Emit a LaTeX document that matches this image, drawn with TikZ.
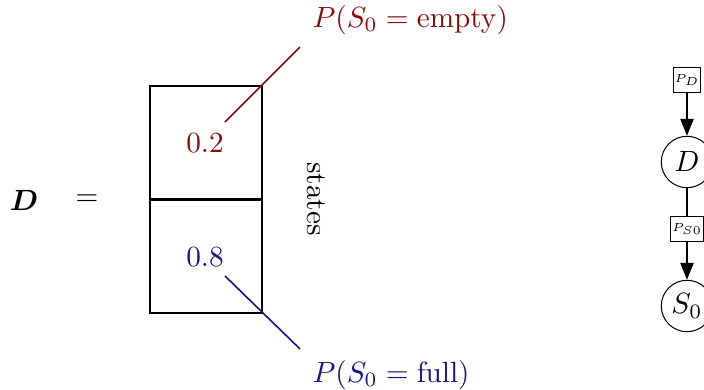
\documentclass[tikz,border=0pt]{standalone}
\usepackage{amsmath,amssymb,bm,graphicx}
\usetikzlibrary{arrows.meta}
\definecolor{myred}{RGB}{139,10,10}
\definecolor{myblue}{RGB}{20,20,140}
\newcommand{\fsmall}[1]{\scalebox{0.8}{\tiny$#1$}}
\begin{document}
\begin{tikzpicture}[x=0.342pt,y=-0.342pt,
  cellbox/.style={draw,line width=0.65pt,minimum width=112*0.342pt,minimum height=113*0.342pt,inner sep=0pt,anchor=north west},
  factorbox/.style={draw,line width=0.35pt,inner sep=0.4pt,minimum width=8.2pt,minimum height=8.4pt},
  varnode/.style={draw,circle,line width=0.35pt,minimum size=17.6pt,inner sep=0pt},
  gedge/.style={line width=0.4pt},
  garrow/.style={line width=0.4pt,-{Triangle[length=5.8pt,width=4.6pt]}},
  redlab/.style={text=myred,anchor=west,inner sep=0pt},
  bluelab/.style={text=myblue,anchor=west,inner sep=0pt}]
\useasboundingbox (0,0) rectangle (704,390);
% left side
\node (Dl) at (24,200) {$\bm{D}$};
\node (eq) at (87,200) {$=$};
\node[cellbox] (top) at (149,85) {};
\node[cellbox] (bot) at (149,199) {};
\node[text=myred] (v1) at (205,143) {$0.2$};
\node[text=myblue] (v2) at (205,257) {$0.8$};
\node[rotate=-90] (st) at (316,199) {states};
\coordinate (r1) at (225,122);
\coordinate (r2) at (300,47);
\coordinate (b1) at (225,276);
\coordinate (b2) at (300,349);
\draw[myred,line width=0.55pt] (r1) -- (r2);
\draw[myblue,line width=0.55pt] (b1) -- (b2);
\node[redlab] (lr) at (312,20) {$P(S_0=\mathrm{empty})$};
\node[bluelab] (lb) at (312,375) {$P(S_0=\mathrm{full})$};
% right graph
\node[factorbox] (pd) at (687,80) {\fsmall{P_D}};
\node[varnode] (D) at (687,162) {$D$};
\node[factorbox] (ps) at (687,229) {\fsmall{P_{S0}}};
\node[varnode] (S) at (687,306) {$S_0$};
\draw[garrow] (pd) -- (D);
\draw[gedge] (D) -- (ps);
\draw[garrow] (ps) -- (S);
\end{tikzpicture}
\end{document}
